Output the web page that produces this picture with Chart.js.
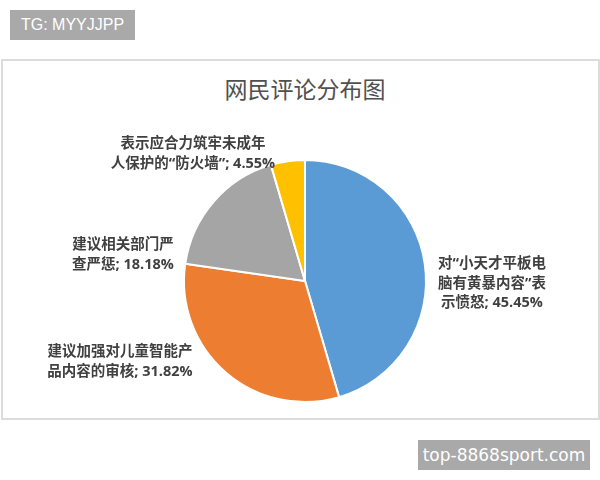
<!DOCTYPE html>
<html>
<head>
<meta charset="utf-8">
<script src="https://cdn.jsdelivr.net/npm/chart.js@4"></script>
<style>
  body { margin: 0; background: #fff; }
  #wrap { position: relative; width: 600px; height: 480px; overflow: hidden; }
  #frame { position: absolute; left: 1px; top: 59px; width: 595px; height: 357px; border: 2px solid #dcdcdc; }
  #tg { position: absolute; left: 10px; top: 10px; width: 125px; height: 30px; background: #a9a9a9; color: #fff;
        font: 16px "Liberation Sans", Arial, sans-serif; line-height: 30px; text-align: center; }
  #site { position: absolute; left: 418px; top: 440px; width: 172px; height: 30px; background: #a9a9a9; color: #fff;
          font: 17px "DejaVu Sans", sans-serif; line-height: 30px; text-align: center; }
  #title { position: absolute; left: 0; width: 610px; top: 72px; text-align: center; color: #505050;
           font: 23px "Noto Sans CJK SC", sans-serif; line-height: 32px; }
  canvas { position: absolute; left: 0; top: 0; }
</style>
</head>
<body>
<div id="wrap">
  <div id="frame"></div>
  <div id="tg">TG: MYYJJPP</div>
  <div id="title">网民评论分布图</div>
  <div id="site">top-8868sport.com</div>
  <canvas id="pieChart" width="600" height="480"></canvas>
</div>
<script>
// data
const categories = [
  '对“小天才平板电脑有黄暴内容”表示愤怒',
  '建议加强对儿童智能产品内容的审核',
  '建议相关部门严查严惩',
  '表示应合力筑牢未成年人保护的“防火墙”'
];
const counts = [10, 7, 4, 1];
const percentLabels = ['45.45%', '31.82%', '18.18%', '4.55%'];
const colors = ['#5B9BD5', '#ED7D31', '#A5A5A5', '#FFC000'];

// label text wrapping and offsets from pie centre (layout only)
const labelLines = [
  ['对“小天才平板电', '脑有黄暴内容”表', '示愤怒; ' + percentLabels[0]],
  ['建议加强对儿童智能产', '品内容的审核; ' + percentLabels[1]],
  ['建议相关部门严', '查严惩; ' + percentLabels[2]],
  ['表示应合力筑牢未成年', '人保护的“防火墙”; ' + percentLabels[3]]
];
const labelOffsets = [[187, -17], [-185, 71], [-182, -36], [-112, -137]];

const labelPlugin = {
  id: 'pieLabels',
  afterDatasetsDraw(chart) {
    const ctx = chart.ctx;
    const meta = chart.getDatasetMeta(0);
    ctx.save();
    ctx.fillStyle = '#404040';
    ctx.font = 'bold 14.5px "Open Sans", "Noto Sans CJK SC", sans-serif';
    ctx.textAlign = 'center';
    ctx.textBaseline = 'middle';
    meta.data.forEach((arc, i) => {
      const cx = arc.x + labelOffsets[i][0];
      const cy = arc.y + labelOffsets[i][1];
      labelLines[i].forEach((line, j) => {
        ctx.fillText(line, cx, cy + j * 19.5);
      });
    });
    ctx.restore();
  }
};

new Chart(document.getElementById('pieChart'), {
  type: 'pie',
  data: {
    labels: categories,
    datasets: [{
      data: counts,
      backgroundColor: colors,
      borderColor: '#ffffff',
      borderWidth: 2
    }]
  },
  options: {
    responsive: false,
    animation: false,
    layout: { padding: { left: 183, right: 173, top: 159, bottom: 77 } },
    plugins: {
      legend: { display: false },
      tooltip: { enabled: false },
      title: { display: false }
    }
  },
  plugins: [labelPlugin]
});
</script>
</body>
</html>
